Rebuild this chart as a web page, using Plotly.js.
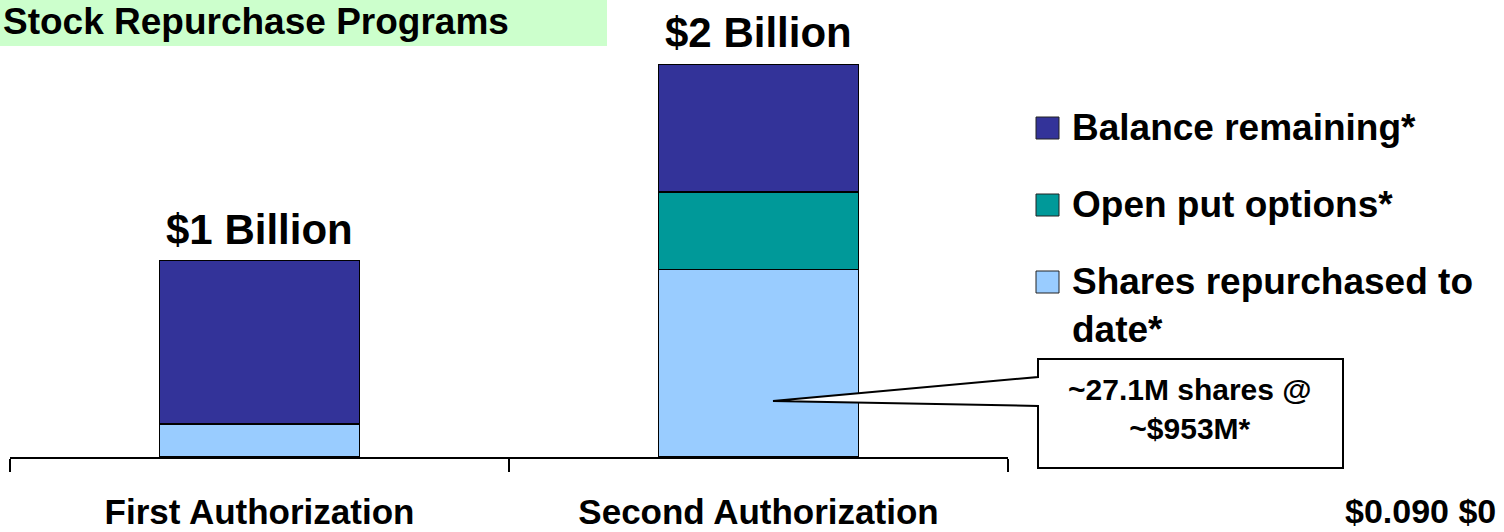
<!DOCTYPE html>
<html>
<head>
<meta charset="utf-8">
<script src="https://cdn.plot.ly/plotly-3.0.1.min.js"></script>
<style>html,body{margin:0;padding:0;background:#fff;}#chart{width:1504px;height:532px;}</style>
</head>
<body>
<div id="chart"></div>
<script>
// ---- data ----
const categories = ["First Authorization", "Second Authorization"];
const sharesRepurchased = [168, 953];   // $M
const openPutOptions = [0, 396];        // $M
const balanceRemaining = [832, 651];    // $M
const totalLabels = ["$1 Billion", "$2 Billion"];
const seriesNames = ["Balance remaining*", "Open put options*", "Shares repurchased to<br>date*"];
const seriesColors = ["#333399", "#009999", "#99CCFF"];
const titleText = "Stock Repurchase Programs";
const calloutText = "~27.1M shares @<br>~$953M*";
const sideText = "$0.090 $0";

const W = 1504, H = 532;
const px = x => x / W;
const py = y => 1 - y / H;
const FONT = 'Arial, "Liberation Sans", sans-serif';

const lineStyle = {color: "#000", width: 1.5};
const traces = [
  {type: "bar", name: seriesNames[2], x: categories, y: sharesRepurchased, marker: {color: seriesColors[2], line: lineStyle}, width: 0.4, showlegend: false, hoverinfo: "skip"},
  {type: "bar", name: seriesNames[1], x: categories, y: openPutOptions, marker: {color: seriesColors[1], line: lineStyle}, width: 0.4, showlegend: false, hoverinfo: "skip"},
  {type: "bar", name: seriesNames[0], x: categories, y: balanceRemaining, marker: {color: seriesColors[0], line: lineStyle}, width: 0.4, showlegend: false, hoverinfo: "skip"}
];

const totals = categories.map((c, i) => sharesRepurchased[i] + openPutOptions[i] + balanceRemaining[i]);

const annotations = [];
const shapes = [];

// title box
shapes.push({type: "rect", xref: "paper", yref: "paper", x0: px(-5), x1: px(607), y0: py(46), y1: py(-5), fillcolor: "#CCFFCC", line: {width: 0}, layer: "below"});
annotations.push({xref: "paper", yref: "paper", x: px(1), y: py(22), xanchor: "left", yanchor: "middle", showarrow: false,
  text: titleText, font: {family: FONT, size: 37, color: "#000", weight: "bold"}});

// total labels
categories.forEach((c, i) => {
  annotations.push({xref: "x", yref: "y", x: c, y: totals[i], yanchor: "bottom", yshift: 6, showarrow: false,
    text: totalLabels[i], font: {family: FONT, size: 42, color: "#000", weight: "bold"}});
});

// legend (manual, large swatches)
const legendRows = [128, 205, 282];
seriesNames.forEach((n, i) => {
  const cy = legendRows[i];
  shapes.push({type: "rect", xref: "paper", yref: "paper", x0: px(1036), x1: px(1059), y0: py(cy + 11), y1: py(cy - 11),
    fillcolor: seriesColors[i], line: {color: "#222", width: 1}});
  annotations.push({xref: "paper", yref: "paper", x: px(1070), y: py(cy - 23), xanchor: "left", yanchor: "top", align: "left",
    showarrow: false, text: n, font: {family: FONT, size: 37, color: "#000", weight: "bold"}});
});

// callout
const cp = [[1038, 359], [1343, 359], [1343, 468], [1038, 468], [1038, 406], [773, 401], [1038, 377]];
let path = "M" + cp.map(p => px(p[0]) + "," + py(p[1])).join(" L") + " Z";
shapes.push({type: "path", xref: "paper", yref: "paper", path: path, fillcolor: "#fff", line: {color: "#000", width: 2}});
annotations.push({xref: "paper", yref: "paper", x: px(1190), y: py(409), xanchor: "center", yanchor: "middle", showarrow: false,
  text: calloutText, align: "center", font: {family: FONT, size: 30, color: "#000", weight: "bold"}});

// side text
annotations.push({xref: "paper", yref: "paper", x: px(1343), y: py(511), xanchor: "left", yanchor: "middle", showarrow: false,
  text: sideText, font: {family: FONT, size: 34, color: "#000", weight: "bold"}});

const layout = {
  width: W, height: H,
  margin: {l: 0, r: 0, t: 0, b: 0, autoexpand: false},
  paper_bgcolor: "#fff", plot_bgcolor: "#fff",
  barmode: "stack",
  showlegend: false,
  xaxis: {type: "category", domain: [px(10), px(1008)], range: [-0.5, 1.5], showline: true, linecolor: "#000", linewidth: 1.5,
    ticks: "outside", tickson: "boundaries", ticklen: 13, tickwidth: 1.5, tickcolor: "#000", showgrid: false, zeroline: false,
    automargin: false, ticklabelstandoff: 23,
    tickfont: {family: FONT, size: 35, color: "#000", weight: "bold"}},
  yaxis: {domain: [1 - 457 / H, 1 - 64 / H], range: [0, 2000], visible: false, showgrid: false, zeroline: false},
  shapes: shapes,
  annotations: annotations
};

Plotly.newPlot("chart", traces, layout, {displayModeBar: false, staticPlot: true});
</script>
</body>
</html>
